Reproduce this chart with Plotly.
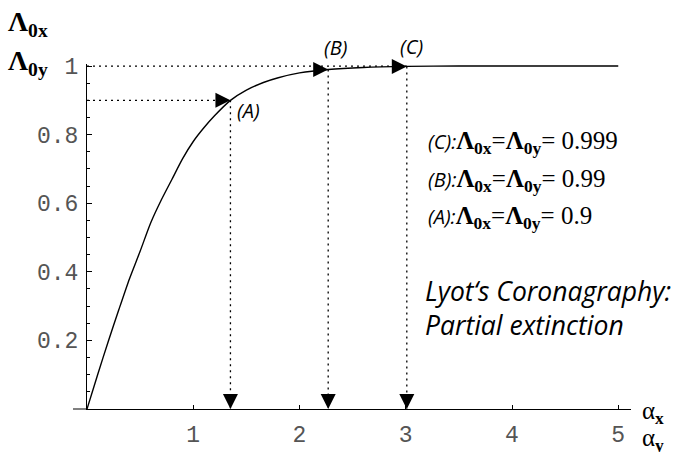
import plotly.graph_objects as go

# ---- data ----
alpha = [0, 0.1, 0.2, 0.3, 0.4, 0.5, 0.6, 0.7, 0.8, 0.9, 1.0, 1.1, 1.2, 1.35,
         1.5, 1.66, 1.8, 2.0, 2.27, 2.6, 3.01, 3.5, 4.0, 4.5, 5.0]
lam = [0, 0.10, 0.197, 0.29, 0.38, 0.46, 0.543, 0.61, 0.67, 0.73, 0.78, 0.82,
       0.855, 0.90, 0.93, 0.952, 0.966, 0.98, 0.99, 0.996, 0.999, 1.0, 1.0, 1.0, 1.0]

point_names = ["(A)", "(B)", "(C)"]
point_alpha = [1.35, 2.27, 3.01]
point_lam = [0.90, 0.99, 0.999]

x_ticks = [1, 2, 3, 4, 5]
y_ticks = [0.2, 0.4, 0.6, 0.8, 1.0]
y_ticktext = ["0.2", "0.4", "0.6", "0.8", "1"]

# ---- layout geometry ----
W, H = 674, 452
L, R, T, B = 87, 43, 64, 43
PW, PH = W - L - R, H - T - B


def px(xpix):
    return (xpix - L) / PW


def py(ypix):
    return (H - B - ypix) / PH


DOT = "2px,4px"
fig = go.Figure()

# main curve
fig.add_trace(go.Scatter(x=alpha, y=lam, mode="lines",
                         line=dict(color="black", width=1.4, shape="spline", smoothing=0.7),
                         hoverinfo="skip", showlegend=False))

# horizontal dotted guides: to A at 0.9, to C along top
fig.add_trace(go.Scatter(x=[0, point_alpha[0]], y=[point_lam[0], point_lam[0]],
                         mode="lines", line=dict(color="black", width=1.3, dash=DOT),
                         showlegend=False, hoverinfo="skip"))
fig.add_trace(go.Scatter(x=[0, point_alpha[2]], y=[1.0, 1.0],
                         mode="lines", line=dict(color="black", width=1.3, dash=DOT),
                         showlegend=False, hoverinfo="skip"))
# vertical dotted guides
for a, l in zip(point_alpha, point_lam):
    fig.add_trace(go.Scatter(x=[a, a], y=[l, 0], mode="lines",
                             line=dict(color="black", width=1.3, dash=DOT),
                             showlegend=False, hoverinfo="skip"))

# arrowheads
fig.add_trace(go.Scatter(x=point_alpha, y=point_lam, mode="markers",
                         marker=dict(symbol="arrow-right", size=15, color="black",
                                     line=dict(width=0)),
                         showlegend=False, hoverinfo="skip", cliponaxis=False))
fig.add_trace(go.Scatter(x=point_alpha, y=[0, 0, 0], mode="markers",
                         marker=dict(symbol="arrow-down", size=15, color="black",
                                     line=dict(width=0)),
                         showlegend=False, hoverinfo="skip", cliponaxis=False))

SANS_I = "Open Sans"
SERIF = "Liberation Serif"
ann = []
# point labels
label_pos = [(248, 110), (335, 48), (411, 46)]
for name, (lx, ly) in zip(point_names, label_pos):
    ann.append(dict(x=px(lx), y=py(ly), xref="paper", yref="paper", showarrow=False,
                    xanchor="center", yanchor="middle",
                    text="<i>%s</i>" % name,
                    font=dict(family=SANS_I, size=20, color="black")))

# values block
rows = [("(C):", "0.999", 142), ("(B):", "0.99", 180), ("(A):", "0.9", 217)]
for nm, val, yy in rows:
    txt = ("<i><span style='font-family:Open Sans;font-size:20px'>%s</span></i>"
           "<b>Λ<sub>0x</sub></b>=<b>Λ<sub>0y</sub></b>= %s" % (nm, val))
    ann.append(dict(x=px(426), y=py(yy), xref="paper", yref="paper", showarrow=False,
                    xanchor="left", yanchor="middle", text=txt,
                    font=dict(family=SERIF, size=25, color="black")))

# title-like text
ann.append(dict(x=px(423), y=py(291), xref="paper", yref="paper", showarrow=False,
                xanchor="left", yanchor="middle",
                text="<i>Lyot‘s Coronagraphy:</i>",
                font=dict(family=SANS_I, size=26.5, color="black")))
ann.append(dict(x=px(423), y=py(325), xref="paper", yref="paper", showarrow=False,
                xanchor="left", yanchor="middle",
                text="<i>Partial extinction</i>",
                font=dict(family=SANS_I, size=26.5, color="black")))

# axis titles
ann.append(dict(x=px(6), y=py(24), xref="paper", yref="paper", showarrow=False,
                xanchor="left", yanchor="middle", text="<b>Λ<sub>0x</sub></b>",
                font=dict(family=SERIF, size=28, color="black")))
ann.append(dict(x=px(6), y=py(63), xref="paper", yref="paper", showarrow=False,
                xanchor="left", yanchor="middle", text="<b>Λ<sub>0y</sub></b>",
                font=dict(family=SERIF, size=28, color="black")))
ann.append(dict(x=px(640), y=py(412), xref="paper", yref="paper", showarrow=False,
                xanchor="left", yanchor="middle", text="α<sub><b>x</b></sub>",
                font=dict(family=SERIF, size=25, color="black")))
ann.append(dict(x=px(640), y=py(439), xref="paper", yref="paper", showarrow=False,
                xanchor="left", yanchor="middle", text="α<sub><b>y</b></sub>",
                font=dict(family=SERIF, size=25, color="black")))

# x-axis extension left of origin
shapes = [dict(type="line", xref="paper", yref="paper", x0=px(73), x1=px(87),
               y0=0, y1=0, line=dict(color="black", width=1))]

tickfont = dict(family="Liberation Mono", size=23, color="#555")
fig.update_layout(
    template="none",
    width=W, height=H,
    margin=dict(l=L, r=R, t=T, b=B, pad=0, autoexpand=False),
    paper_bgcolor="white", plot_bgcolor="white",
    showlegend=False,
    annotations=ann, shapes=shapes,
    xaxis=dict(range=[0, 5.12], showline=True, linecolor="black", linewidth=1,
               ticks="inside", ticklen=4, tickcolor="black", tickwidth=1,
               tickvals=x_ticks, ticktext=[str(v) for v in x_ticks],
               tickfont=tickfont, showgrid=False, zeroline=False,
               ticklabelstandoff=4, automargin=False),
    yaxis=dict(range=[0, 1.006], showline=True, linecolor="black", linewidth=1,
               ticks="inside", ticklen=5, tickcolor="black", tickwidth=1,
               tickvals=y_ticks, ticktext=y_ticktext,
               tickfont=tickfont, showgrid=False, zeroline=False,
               ticklabelstandoff=3, automargin=False,
               minor=dict(ticks="inside", ticklen=3, dtick=0.05, tick0=0,
                          tickcolor="black", showgrid=False)),
)

fig.write_html(
    "out.html",
    config={"responsive": False, "displayModeBar": False},
    post_script="document.body.style.margin='0';document.body.style.padding='0';"
                "document.body.style.overflow='hidden';"
                "document.documentElement.style.overflow='hidden';",
)
